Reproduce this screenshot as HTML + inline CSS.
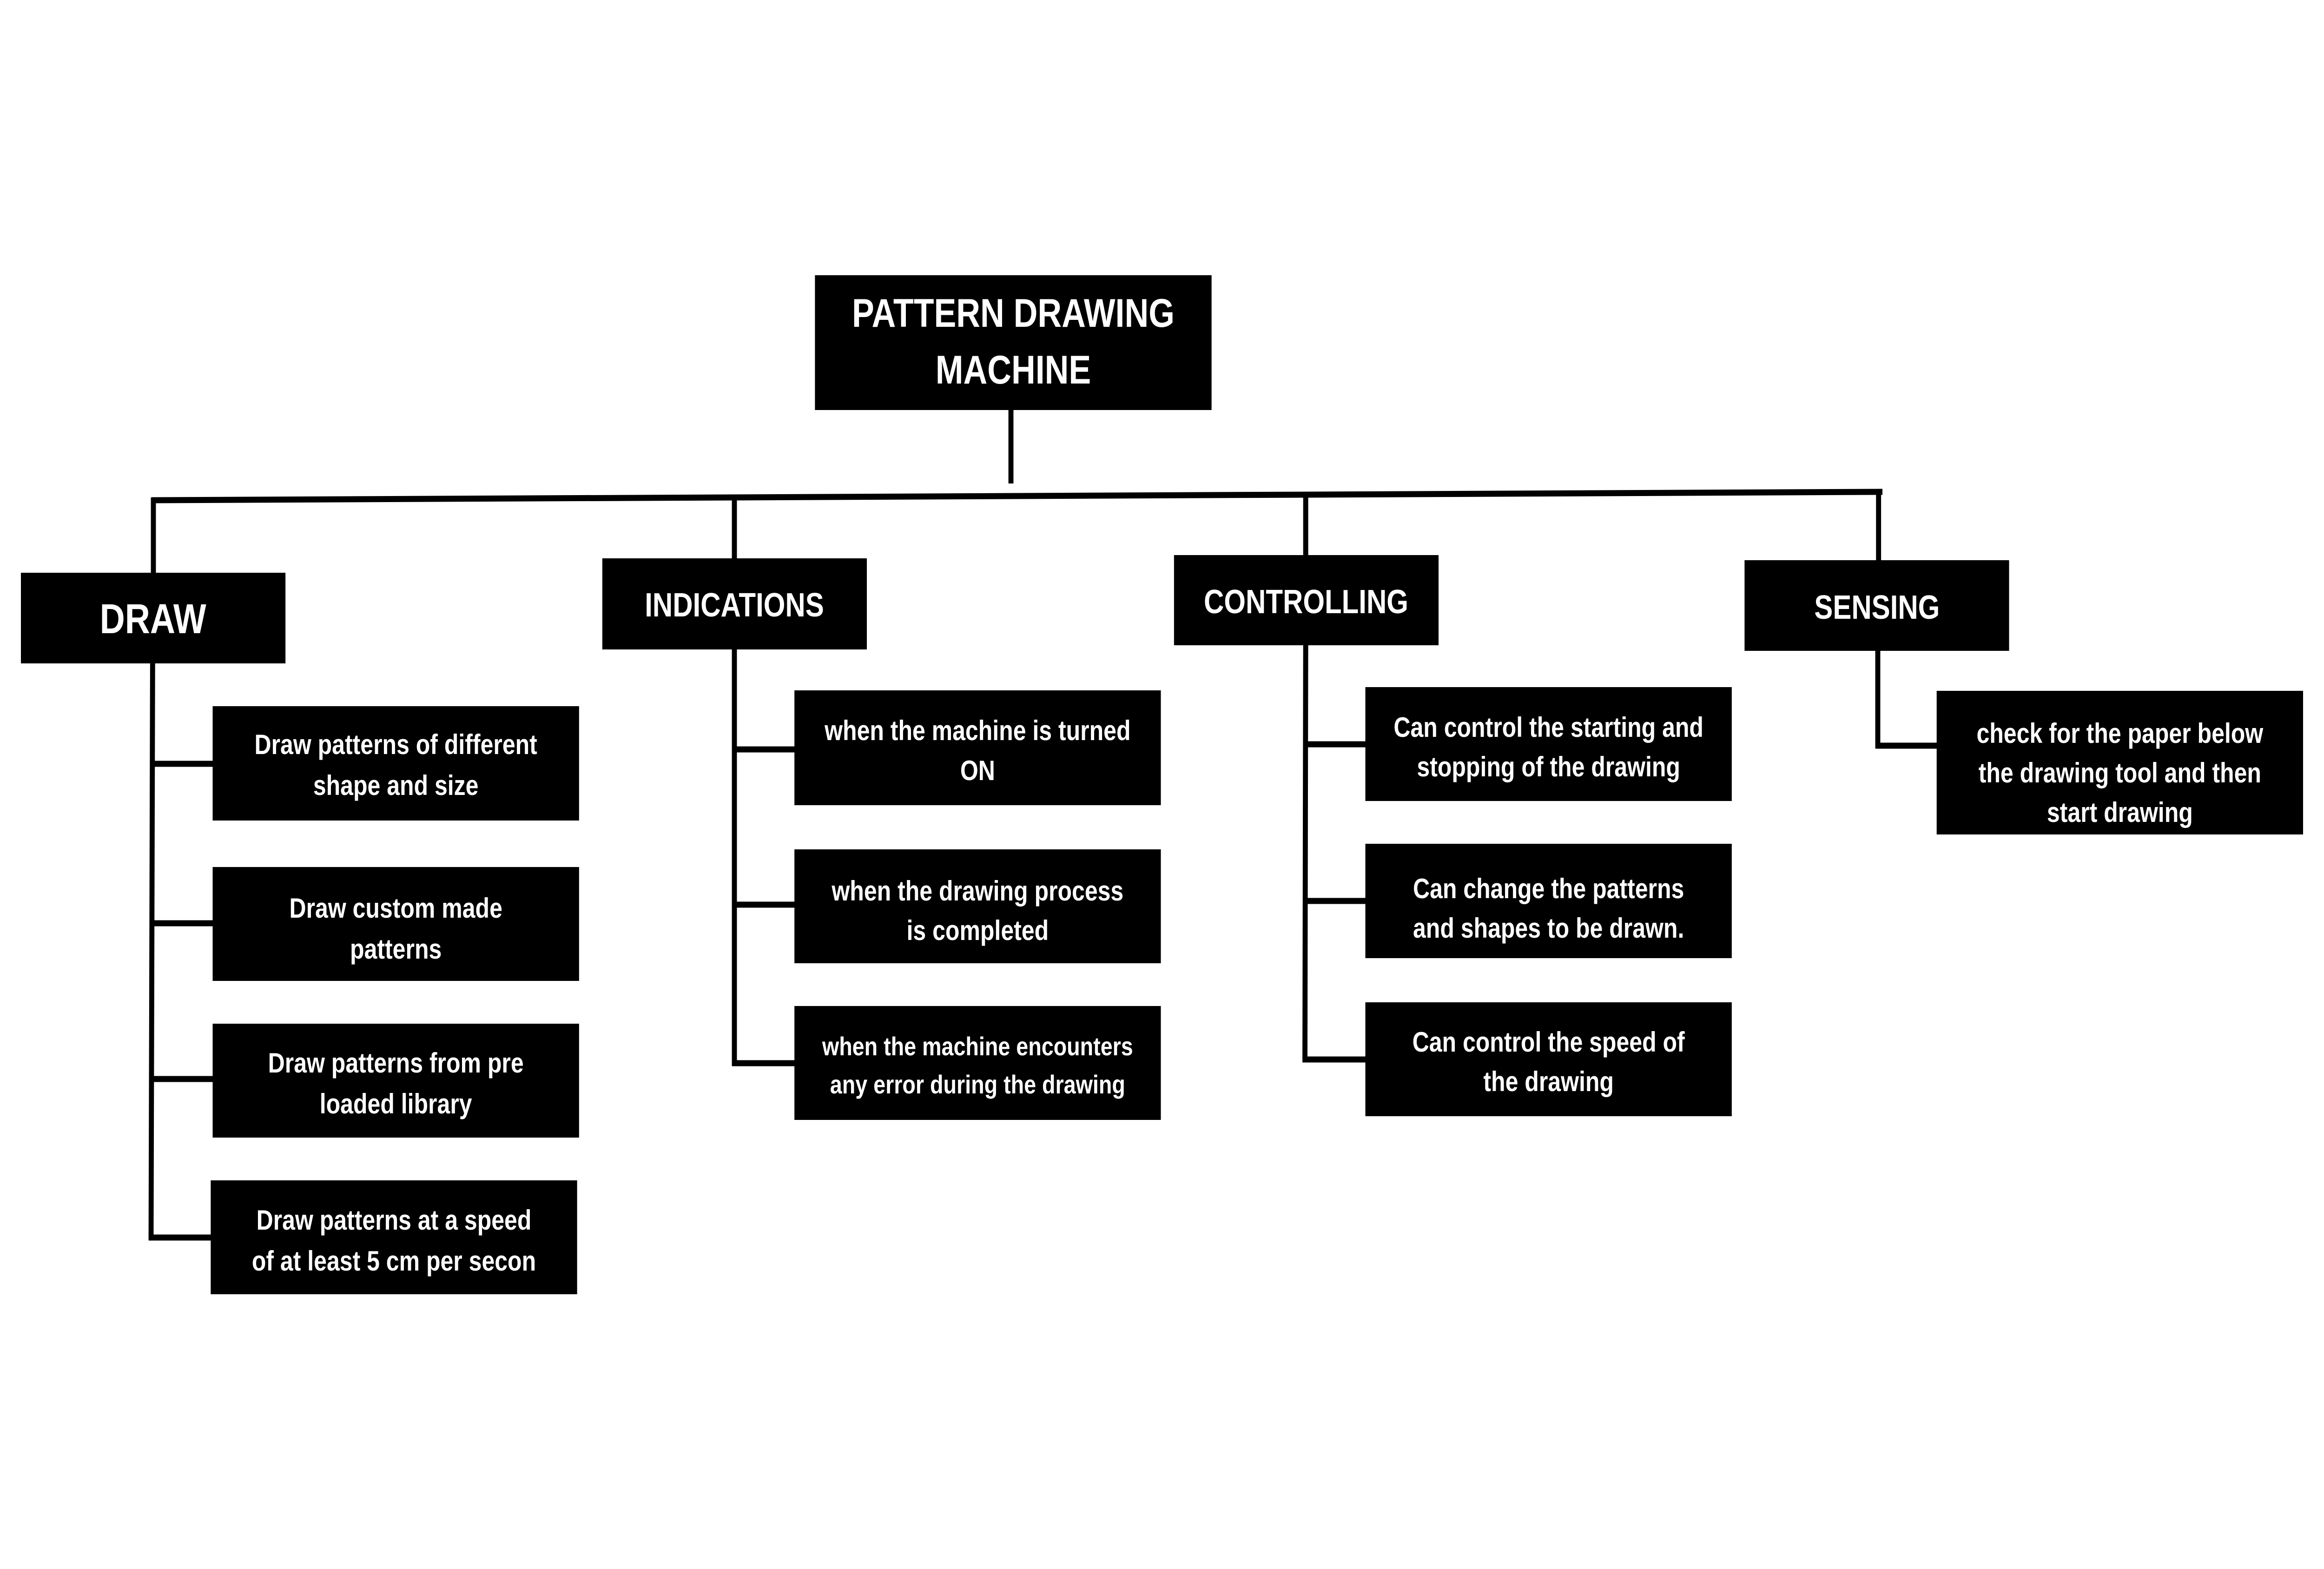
<!DOCTYPE html>
<html><head><meta charset="utf-8"><style>
html,body{margin:0;padding:0;background:#fff;width:100%;height:100%;overflow:hidden;}
svg{display:block;width:100vw;height:100vh;}
text{font-family:"Liberation Sans",sans-serif;font-weight:bold;fill:#fff;text-anchor:middle;}
.c{font-size:60px;}
.s{font-size:56px;}
.h{font-size:72px;}
</style></head><body>
<svg viewBox="0 0 6000 3375" preserveAspectRatio="none" xmlns="http://www.w3.org/2000/svg">
<g stroke="#000" stroke-width="13" fill="none">
<line x1="2610" y1="880" x2="2610" y2="1040"/>
<line x1="392" y1="1076" x2="4860" y2="1058"/>
<line x1="396" y1="1070" x2="396" y2="1235"/>
<line x1="1896" y1="1066" x2="1896" y2="1205"/>
<line x1="3371" y1="1060" x2="3371" y2="1198"/>
<line x1="4850" y1="1058" x2="4850" y2="1208"/>
<line x1="394" y1="1425" x2="390" y2="2668"/>
<line x1="390" y1="1643" x2="550" y2="1643"/>
<line x1="390" y1="1986" x2="550" y2="1986"/>
<line x1="390" y1="2321" x2="550" y2="2321"/>
<line x1="384" y1="2662" x2="545" y2="2662"/>
<line x1="1896" y1="1395" x2="1896" y2="2293"/>
<line x1="1896" y1="1612" x2="2052" y2="1612"/>
<line x1="1896" y1="1946" x2="2052" y2="1946"/>
<line x1="1890" y1="2287" x2="2052" y2="2287"/>
<line x1="3371" y1="1385" x2="3369" y2="2285"/>
<line x1="3371" y1="1601" x2="3526" y2="1601"/>
<line x1="3371" y1="1938" x2="3526" y2="1938"/>
<line x1="3363" y1="2279" x2="3526" y2="2279"/>
<line x1="4848" y1="1398" x2="4848" y2="1610"/>
<line x1="4842" y1="1604" x2="5001" y2="1604"/>
</g>
<g fill="#000">
<rect x="2104" y="592" width="1024" height="290"/>
<rect x="54" y="1232" width="683" height="195"/>
<rect x="1555" y="1201" width="683" height="196"/>
<rect x="3031" y="1194" width="683" height="194"/>
<rect x="4504" y="1205" width="683" height="195"/>
<rect x="549" y="1519" width="946" height="246"/>
<rect x="549" y="1865" width="946" height="245"/>
<rect x="549" y="2202" width="946" height="245"/>
<rect x="544" y="2539" width="946" height="245"/>
<rect x="2051" y="1485" width="946" height="247"/>
<rect x="2051" y="1827" width="946" height="245"/>
<rect x="2051" y="2164" width="946" height="245"/>
<rect x="3525" y="1478" width="946" height="245"/>
<rect x="3525" y="1815" width="946" height="246"/>
<rect x="3525" y="2156" width="946" height="245"/>
<rect x="5000" y="1486" width="946" height="309"/>
</g>
<text x="2616" y="703" style="font-size:86px">PATTERN DRAWING</text>
<text x="2616" y="825" style="font-size:86px">MACHINE</text>
<text x="395" y="1362" style="font-size:90px">DRAW</text>
<text class="h" x="1896" y="1326">INDICATIONS</text>
<text class="h" x="3372" y="1319">CONTROLLING</text>
<text class="h" x="4846" y="1331">SENSING</text>
<text class="c" x="1022" y="1622">Draw patterns of different</text>
<text class="c" x="1022" y="1710">shape and size</text>
<text class="c" x="1022" y="1974">Draw custom made</text>
<text class="c" x="1022" y="2062">patterns</text>
<text class="c" x="1022" y="2307">Draw patterns from pre</text>
<text class="c" x="1022" y="2395">loaded library</text>
<text class="c" x="1017" y="2645">Draw patterns at a speed</text>
<text class="c" x="1017" y="2733">of at least 5 cm per secon</text>
<text class="c" x="2524" y="1592">when the machine is turned</text>
<text class="c" x="2524" y="1678">ON</text>
<text class="c" x="2524" y="1937">when the drawing process</text>
<text class="c" x="2524" y="2022">is completed</text>
<text class="s" x="2524" y="2270">when the machine encounters</text>
<text class="s" x="2524" y="2352">any error during  the drawing</text>
<text class="c" x="3998" y="1585">Can control the starting and</text>
<text class="c" x="3998" y="1670">stopping of the drawing</text>
<text class="c" x="3998" y="1932">Can change the patterns</text>
<text class="c" x="3998" y="2017">and shapes to be drawn.</text>
<text class="c" x="3998" y="2262">Can control the speed of</text>
<text class="c" x="3998" y="2347">the drawing</text>
<text class="c" x="5473" y="1598">check for the paper below</text>
<text class="c" x="5473" y="1683">the drawing tool and then</text>
<text class="c" x="5473" y="1768">start drawing</text>
</svg>
</body></html>
